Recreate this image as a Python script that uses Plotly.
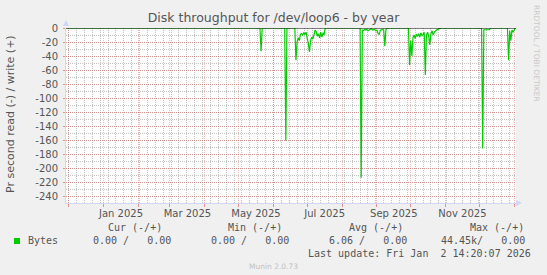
import pandas as pd
import plotly.graph_objects as go

# ---------------- data ----------------
range_start = "2024-11-28 14:20:07"
range_end = "2026-01-02 14:20:07"

series_first_day = "2024-11-29"
series_last_day = "2026-01-02"

# bursts of non-zero daily "read" throughput (plotted negative): start day + consecutive daily values
burst_starts = ["2025-05-21", "2025-06-12", "2025-06-21", "2025-08-18", "2025-09-30", "2025-12-04", "2025-12-27"]
burst_values = [
    [-33],
    [-161],
    [-46, -20, -14, -18, -9, -8, -10, -7, -9, -6, -15, -22, -34, -18, -13, -16, -10, -3, -5, -12, -8, -14, -6, -13, -7, -10],
    [-214, -3, -4, -2, -3, -2, -4, -3, -2, -1, -3, -2, -2, -4, -3, -8, -9, -3, -2, -2, -3, -26, -2],
    [-53, -18, -40, -14, -10, -15, -9, -12, -8, -13, -7, -11, -9, -6, -67, -10, -6, -12, -24, -8, -4, -10, -6, -4, -3, -2, -1],
    [-172, -2.5, -2.5, -2.5, -2.5, -2.5, -2.5],
    [-46, -4, -18, -3, -6, -2],
]

y_tick_values = list(range(-240, 1, 20))
x_label_months = ["2025-01-01", "2025-03-01", "2025-05-01", "2025-07-01", "2025-09-01", "2025-11-01"]
x_label_texts = ["Jan 2025", "Mar 2025", "May 2025", "Jul 2025", "Sep 2025", "Nov 2025"]

legend_headers = ["Cur (-/+)", "Min (-/+)", "Avg (-/+)", "Max (-/+)"]
legend_values = ["0.00 /   0.00", "0.00 /   0.00", "6.06 /   0.00", "44.45k/   0.00"]
series_name = "Bytes"
last_update = "Last update: Fri Jan  2 14:20:07 2026"

title_text = "Disk throughput for /dev/loop6 - by year"
y_title = "Pr second read (-) / write (+)"

# ---------------- build the series ----------------
days = pd.date_range(series_first_day, series_last_day, freq="D")
vals = pd.Series(0.0, index=days)
for s, v in zip(burst_starts, burst_values):
    idx = pd.date_range(s, periods=len(v), freq="D")
    vals.loc[idx] = v

# ---------------- geometry ----------------
W_FIG, H_FIG = 547, 275
L, T, W, H = 66, 28, 450, 175
R = W_FIG - L - W
B = H_FIG - T - H


def ax(px):
    return (px - L) / W


def ay(py):
    return (T + H - py) / H


GREEN = "#00CC00"
MGRID = "rgba(222,79,79,0.4)"
GRID = "rgba(143,143,143,0.55)"
TICKC = "rgba(222,79,79,0.6)"
AXIS = "#CFD6F8"
FONT = "#555555"
SANS = "DejaVu Sans"
MONO = "DejaVu Sans Mono"

fig = go.Figure()
fig.add_trace(go.Scatter(x=vals.index, y=vals.values, mode="lines",
                         line=dict(color=GREEN, width=1.2), hoverinfo="skip",
                         showlegend=False, cliponaxis=True))
# invisible trace to anchor label axis
fig.add_trace(go.Scatter(x=[range_start, range_end], y=[-250, -250], xaxis="x2", mode="lines",
                         line=dict(width=0, color="rgba(0,0,0,0)"), hoverinfo="skip", showlegend=False))

month_starts = pd.date_range("2024-12-01", "2026-01-01", freq="MS")
label_pos = []
for m in x_label_months:
    a = pd.Timestamp(m)
    b = a + pd.offsets.MonthBegin(1)
    label_pos.append(a + (b - a) / 2)

fig.update_layout(
    width=W_FIG, height=H_FIG,
    margin=dict(l=L, r=R, t=T, b=B, pad=0),
    paper_bgcolor="#F0F0F0", plot_bgcolor="#FFFFFF",
    showlegend=False,
    title=dict(text=title_text, x=0.5, xref="container", xanchor="center",
               y=1 - 18 / H_FIG, yref="container", yanchor="middle",
               font=dict(family=SANS, size=12.5, color=FONT)),
    xaxis=dict(type="date", range=[range_start, range_end],
               tickmode="array", tickvals=list(month_starts), showticklabels=False,
               ticks="outside", ticklen=3, tickcolor=TICKC,
               showgrid=True, gridcolor=MGRID, griddash="1px,1px", gridwidth=1,
               minor=dict(dtick=7 * 86400000, tick0="2024-12-01", showgrid=True,
                          gridcolor=GRID, griddash="1px,1px", ticks=""),
               showline=True, linecolor=AXIS, linewidth=1, zeroline=False, fixedrange=True),
    xaxis2=dict(type="date", range=[range_start, range_end], overlaying="x", anchor="y", side="bottom",
                tickmode="array", tickvals=label_pos, ticktext=x_label_texts,
                showgrid=False, ticks="", showline=False, zeroline=False,
                ticklabelstandoff=3,
                tickfont=dict(family=SANS, size=10, color=FONT), fixedrange=True),
    yaxis=dict(range=[-250, 0], tickmode="array", tickvals=y_tick_values,
               ticktext=[str(v) for v in y_tick_values],
               ticks="outside", ticklen=2, tickcolor=TICKC,
               showgrid=True, gridcolor=MGRID, griddash="1px,1px",
               minor=dict(dtick=10, tick0=0, showgrid=True, gridcolor=GRID, griddash="1px,1px", ticks=""),
               showline=True, linecolor=AXIS, linewidth=1, zeroline=False,
               tickfont=dict(family=SANS, size=10, color=FONT), ticklabelstandoff=3,
               fixedrange=True),
)

shapes = [
    # zero rule (black HRULE)
    dict(type="line", xref="paper", yref="y", x0=0, x1=1, y0=0, y1=0,
         line=dict(color="#000000", width=1), layer="above"),
    # axis arrows
    dict(type="path", xref="paper", yref="paper",
         path=f"M {ax(L-3)} {ay(26)} L {ax(L+3)} {ay(26)} L {ax(L)} {ay(20)} Z",
         fillcolor=AXIS, line=dict(width=0), layer="above"),
    dict(type="path", xref="paper", yref="paper",
         path=f"M {ax(L+W)} {ay(T+H-3)} L {ax(L+W)} {ay(T+H+3)} L {ax(L+W+6)} {ay(T+H)} Z",
         fillcolor=AXIS, line=dict(width=0), layer="above"),
    # legend colour box
    dict(type="rect", xref="paper", yref="paper",
         x0=ax(14), x1=ax(20), y0=ay(244), y1=ay(238),
         fillcolor=GREEN, line=dict(width=0)),
]
fig.update_layout(shapes=shapes)


def nb(s):
    return s.replace(" ", "\u00a0")


ann = []
ann.append(dict(text=y_title, x=ax(10), y=ay(114), textangle=-90,
                font=dict(family=SANS, size=11, color=FONT)))
ann.append(dict(text="RRDTOOL / TOBI OETIKER", x=ax(537), y=ay(53), textangle=90,
                font=dict(family=SANS, size=7.5, color="#C8C8C8")))
header_right = [164, 284.4, 404.7, 526]
value_right = [173.4, 291.3, 409, 526.9]
for t, xr in zip(legend_headers, header_right):
    ann.append(dict(text=nb(t), x=ax(xr), y=ay(227.5), xanchor="right",
                    font=dict(family=MONO, size=10, color=FONT)))
ann.append(dict(text=series_name, x=ax(26), y=ay(240.5), xanchor="left",
                font=dict(family=MONO, size=10, color=FONT)))
for t, xr in zip(legend_values, value_right):
    ann.append(dict(text=nb(t), x=ax(xr), y=ay(240.5), xanchor="right",
                    font=dict(family=MONO, size=10, color=FONT)))
ann.append(dict(text=nb(last_update), x=ax(533), y=ay(253.5), xanchor="right",
                font=dict(family=MONO, size=10, color=FONT)))
ann.append(dict(text="Munin 2.0.73", x=ax(273), y=ay(266), xanchor="center",
                font=dict(family=SANS, size=7.5, color="#C0C0C0")))
for a in ann:
    a.update(xref="paper", yref="paper", showarrow=False, yanchor=a.get("yanchor", "middle"))
    a.setdefault("xanchor", "center")
fig.update_layout(annotations=ann)

fig.write_html("out.html", config={"displayModeBar": False, "staticPlot": True})
